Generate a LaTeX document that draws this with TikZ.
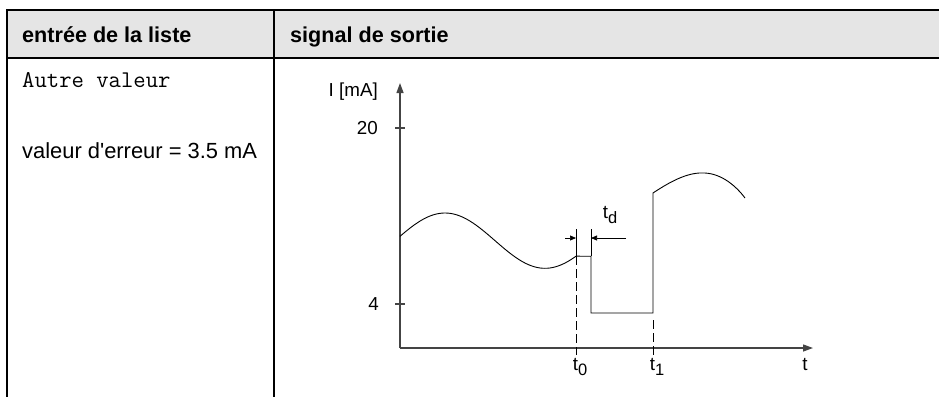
\documentclass[tikz,border=0pt]{standalone}
\usepackage{fontspec}
\setmainfont{Liberation Sans}
\usetikzlibrary{arrows.meta}
\definecolor{hdrgray}{HTML}{E5E5E5}
\definecolor{axisgray}{HTML}{444444}
\begin{document}
\begin{tikzpicture}[x=1pt,y=-1pt,
  rule/.style={line width=2pt,black},
  axisline/.style={line width=1.3pt,draw=axisgray},
  curve/.style={line width=0.9pt,black},
  thinline/.style={line width=0.7pt,black},
  dashline/.style={line width=0.8pt,black,dash pattern=on 9pt off 4pt},
  tbltext/.style={font=\fontsize{21.9}{24}\selectfont,anchor=base west,inner sep=0pt},
  hdrtext/.style={font=\fontsize{21.6}{24}\selectfont\bfseries,anchor=base west,inner sep=0pt},
  monotext/.style={font=\fontsize{24}{26}\selectfont\ttfamily,anchor=base west,inner sep=0pt},
  plotlabel/.style={font=\fontsize{18.8}{20}\selectfont,inner sep=0pt},
  bigtip/.style={-{Triangle[length=10pt,width=7pt]}},
  smalltip/.style={-{Triangle[length=6pt,width=5pt]}}
]
\useasboundingbox (0,0) rectangle (939,397);
% table
\fill[hdrgray] (7,10) rectangle (939,58);
\draw[rule] (7,10) -- (939,10);
\draw[rule] (7,58) -- (939,58);
\draw[rule] (7,9) -- (7,397);
\draw[rule] (274,9) -- (274,397);
\node[hdrtext] (h1) at (22,42) {entrée de la liste};
\node[hdrtext] (h2) at (290,42) {signal de sortie};
\node[monotext] (c1) at (22,87) {Autre valeur};
\node[tbltext] (c2) at (22,158) {valeur d\textquotesingle erreur = 3.5 mA};
% axes
\coordinate (O) at (400,348);
\coordinate (ytop) at (400,83);
\coordinate (xend) at (813,348);
\draw[axisline,bigtip] (O) -- (ytop);
\draw[axisline,bigtip] (O) -- (xend);
\draw[axisline] (395,128) -- (405,128);
\draw[axisline] (395,304) -- (405,304);
\node[plotlabel,anchor=base east] (ylab) at (378,96) {I [mA]};
\node[plotlabel,anchor=base east] (l20) at (378,134) {20};
\node[plotlabel,anchor=base east] (l4) at (379,310) {4};
\node[plotlabel,anchor=base] (tl) at (805,370) {t};
\node[plotlabel,anchor=base] (t0) at (580,370) {t\raisebox{-5pt}{\fontsize{16.5}{18}\selectfont 0}};
\node[plotlabel,anchor=base] (t1) at (657,370) {t\raisebox{-5pt}{\fontsize{16.5}{18}\selectfont 1}};
\node[plotlabel,anchor=base] (td) at (610,218) {t\raisebox{-5pt}{\fontsize{16.5}{18}\selectfont d}};
% signal
\draw[curve] plot[domain=400:576,samples=90,smooth] (\x,{240.65-27.65*cos(1.8*(\x-445))})
  -- (591,256.2) -- (591,313) -- (653,313) -- (653,193)
  .. controls (674,179) and (690,172) .. (705,173)
  .. controls (722,174) and (736,186) .. (745,198);
% dashed markers
\draw[dashline] (576,256) -- (576,355);
\draw[dashline] (653,320) -- (653,355);
% td dimension
\draw[thinline] (576,229) -- (576,256);
\draw[thinline] (591,229) -- (591,256);
\coordinate (a1) at (565,238);
\coordinate (a2) at (576,238);
\coordinate (b1) at (626,238);
\coordinate (b2) at (591,238);
\draw[thinline,smalltip] (a1) -- (a2);
\draw[thinline,smalltip] (b1) -- (b2);
\end{tikzpicture}
\end{document}
